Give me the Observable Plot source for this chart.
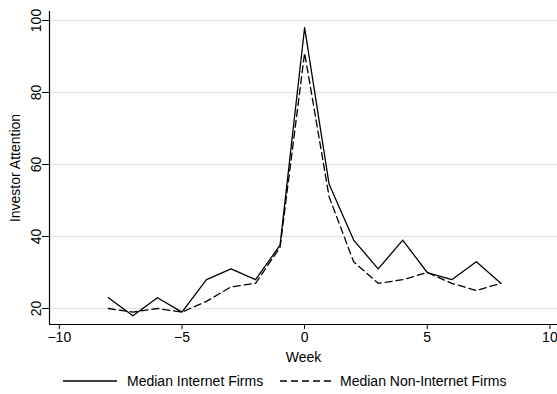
<!DOCTYPE html>
<html>
<head>
<meta charset="utf-8">
<script src="https://cdn.jsdelivr.net/npm/d3@7"></script>
<script src="https://cdn.jsdelivr.net/npm/@observablehq/plot@0.6"></script>
<style>
  html, body { margin: 0; padding: 0; background: #fff; }
  #wrap { width: 557px; height: 394px; position: relative; overflow: hidden; font-family: 'Liberation Sans', Arial, sans-serif; }
  #legend { position: relative; height: 26px; font-size: 14px; color: #000; }
  .item { position: absolute; top: 0; height: 26px; display: flex; align-items: center; }
</style>
</head>
<body>
<div id="wrap">
  <div id="chart"></div>
  <div id="legend"></div>
</div>
<script>
const weeks = [-8, -7, -6, -5, -4, -3, -2, -1, 0, 1, 2, 3, 4, 5, 6, 7, 8];
const internetFirms = [23, 18, 23, 19, 28, 31, 28, 37.6, 98, 54.5, 39, 31, 39, 30, 28, 33, 27];
const nonInternetFirms = [20, 19, 20, 19, 22, 26, 27, 37, 91, 51, 33, 27, 28, 30, 27, 25, 27];
const xTicks = [-10, -5, 0, 5, 10];
const yTicks = [20, 40, 60, 80, 100];
const xDomain = [-10.4, 10.31];
const yDomain = [15.56, 102.5];
const seriesNames = ["Median Internet Firms", "Median Non-Internet Firms"];

const rows = weeks.map((w, i) => ({week: w, internet: internetFirms[i], non: nonInternetFirms[i]}));

const chart = Plot.plot({
  width: 557,
  height: 366,
  marginLeft: 49,
  marginRight: 0,
  marginTop: 11,
  marginBottom: 42,
  x: {domain: xDomain},
  y: {domain: yDomain},
  style: {fontFamily: "'Liberation Sans', Arial, sans-serif", fontSize: "14px", color: "#000", background: "#fff", overflow: "visible"},
  marks: [
    Plot.gridY(yTicks, {stroke: "#e6e6e6", strokeOpacity: 1, strokeWidth: 1.5}),
    Plot.ruleY([yDomain[0]], {stroke: "#000", strokeWidth: 1.2}),
    Plot.ruleX([xDomain[0]], {stroke: "#000", strokeWidth: 1.2}),
    Plot.axisX(xTicks, {tickSize: 5, tickPadding: 3, label: "Week", labelAnchor: "center", labelArrow: "none", labelOffset: 37, stroke: "#000"}),
    Plot.axisY(yTicks, {tickSize: 7, tickPadding: 2, tickRotate: -90, label: "Investor Attention", labelAnchor: "center", labelArrow: "none", labelOffset: 39, stroke: "#000"}),
    Plot.line(rows, {x: "week", y: "internet", stroke: "#000", strokeWidth: 1.3}),
    Plot.line(rows, {x: "week", y: "non", stroke: "#000", strokeWidth: 1.3, strokeDasharray: "7,4"})
  ]
});
document.getElementById("chart").appendChild(chart);

const legend = document.getElementById("legend");
legend.style.marginTop = "2px";
const items = [
  {name: seriesNames[0], dash: null, left: 63, w: 54, gap: 10},
  {name: seriesNames[1], dash: "7,4", left: 280, w: 52, gap: 8}
];
for (const it of items) {
  const d = document.createElement("div");
  d.className = "item";
  d.style.left = it.left + "px";
  d.innerHTML = `<svg width="${it.w}" height="4" style="margin-right:${it.gap}px"><line x1="0" x2="${it.w}" y1="2" y2="2" stroke="#000" stroke-width="1.3" ${it.dash ? `stroke-dasharray="${it.dash}"` : ""}/></svg><span>${it.name}</span>`;
  legend.appendChild(d);
}
</script>
</body>
</html>
